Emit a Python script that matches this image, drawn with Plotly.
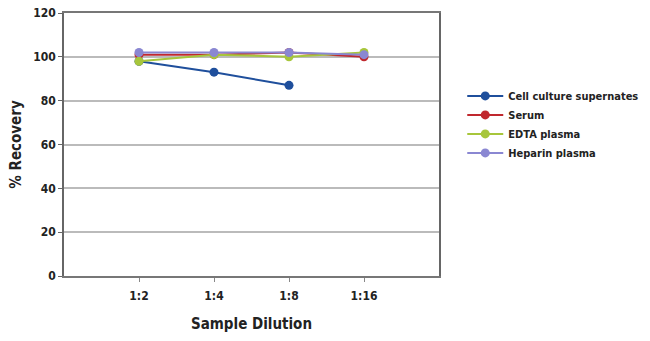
import plotly.graph_objects as go

categories = ["1:2", "1:4", "1:8", "1:16"]
cell_culture = [98, 93, 87, None]
serum = [101, 101, 102, 100]
edta = [98, 101, 100, 102]
heparin = [102, 102, 102, 101]

series = [
    ("Cell culture supernates", cell_culture, "#1f4f9c"),
    ("Serum", serum, "#c0282e"),
    ("EDTA plasma", edta, "#a7c63b"),
    ("Heparin plasma", heparin, "#8a87d2"),
]

xpos = list(range(1, len(categories) + 1))
FONT = "DejaVu Sans Condensed, Liberation Sans Narrow, Roboto Condensed, Roboto, sans-serif"

fig = go.Figure()
for name, vals, col in series:
    xs = [x for x, v in zip(xpos, vals) if v is not None]
    ys = [v for v in vals if v is not None]
    fig.add_trace(go.Scatter(
        x=xs, y=ys, name=name, mode="lines+markers",
        line=dict(color=col, width=2),
        marker=dict(color=col, size=9),
    ))

fig.update_layout(
    width=650, height=341,
    margin=dict(l=64, r=211, t=13, b=65, autoexpand=False),
    paper_bgcolor="white", plot_bgcolor="white",
    font=dict(family=FONT, size=12, color="#222"),
    showlegend=True,
    legend=dict(x=1.062, y=0.74, xanchor="left", yanchor="top",
                font=dict(family=FONT, size=11, color="#222", weight="bold"),
                tracegroupgap=0, itemwidth=36, bgcolor="rgba(0,0,0,0)"),
    xaxis=dict(
        range=[0, 5], tickvals=xpos, ticktext=categories,
        showgrid=False, zeroline=False, automargin=False,
        ticks="outside", ticklen=4, tickcolor="#888", ticklabelstandoff=4,
        tickfont=dict(family=FONT, size=12, color="#222", weight="bold"),
        showline=True, linecolor="#777", linewidth=1.5, mirror=True,
        title=dict(text="Sample Dilution", standoff=16,
                   font=dict(family=FONT, size=15, color="#222", weight="bold")),
    ),
    yaxis=dict(
        range=[0, 120], tickvals=[0, 20, 40, 60, 80, 100, 120],
        showgrid=True, gridcolor="#bbbbbb", gridwidth=1.5, zeroline=False,
        automargin=False,
        ticks="outside", ticklen=4, tickcolor="#666",
        tickfont=dict(family=FONT, size=12, color="#222", weight="bold"),
        showline=True, linecolor="#666", linewidth=1.5, mirror=True,
        title=dict(text="% Recovery", standoff=8,
                   font=dict(family=FONT, size=15, color="#222", weight="bold")),
    ),
)

fig.write_html("out.html")
